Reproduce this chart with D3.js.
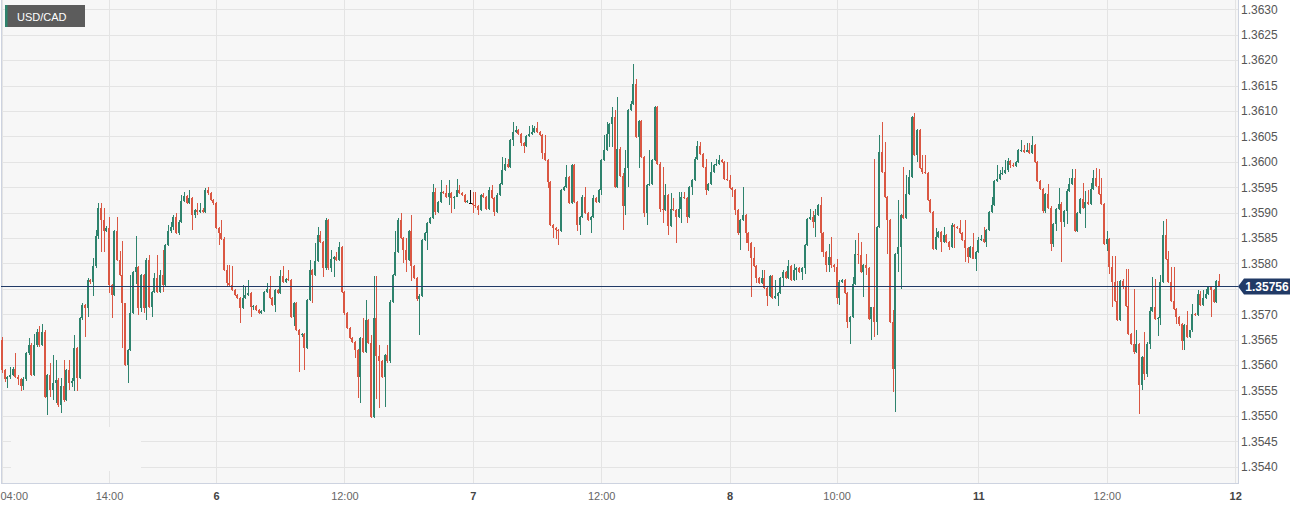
<!DOCTYPE html>
<html><head><meta charset="utf-8">
<script src="https://cdn.jsdelivr.net/npm/d3@7"></script>
<style>html,body{margin:0;padding:0;background:#fff;}svg{display:block;font-family:"Liberation Sans",Arial,sans-serif;}</style>
</head><body><svg id="chart" width="1307" height="509"></svg>
<script>
const symbol = "USD/CAD";
const lastPrice = 1.35756;
const timeTickIndex = [0,40,80,128,176,224,272,312,365,413,461];
const timeTickLabels = ["04:00","14:00","6","12:00","7","12:00","8","10:00","11","12:00","12"];
const dayLabels = ["6","7","8","11","12"];
const priceTicks = [1.3540,1.3545,1.3550,1.3555,1.3560,1.3565,1.3570,1.3575,1.3580,1.3585,1.3590,1.3595,1.3600,1.3605,1.3610,1.3615,1.3620,1.3625,1.3630];

const open = [
1.35649,1.35590,1.35572,1.35577,1.35581,1.35593,1.35577,1.35572,1.35558,1.35572,
1.35624,1.35639,1.35580,1.35639,1.35666,1.35639,1.35666,1.35538,1.35580,1.35551,
1.35565,1.35571,1.35521,1.35558,1.35531,1.35590,1.35564,1.35568,1.35633,1.35574,
1.35692,1.35718,1.35712,1.35767,1.35764,1.35794,1.35853,1.35909,1.35886,1.35863,
1.35869,1.35758,1.35738,1.35863,1.35807,1.35777,1.35722,1.35600,1.35630,1.35702,
1.35784,1.35792,1.35712,1.35777,1.35712,1.35807,1.35715,1.35744,1.35771,1.35744,
1.35777,1.35758,1.35836,1.35863,1.35872,1.35892,1.35859,1.35882,1.35922,1.35933,
1.35918,1.35928,1.35895,1.35905,1.35902,1.35905,1.35902,1.35945,1.35938,1.35925,
1.35918,1.35869,1.35859,1.35849,1.35787,1.35761,1.35758,1.35748,1.35738,1.35731,
1.35712,1.35731,1.35738,1.35741,1.35715,1.35716,1.35709,1.35703,1.35706,1.35744,
1.35749,1.35731,1.35718,1.35748,1.35742,1.35775,1.35764,1.35769,1.35767,1.35695,
1.35722,1.35669,1.35659,1.35662,1.35633,1.35728,1.35787,1.35777,1.35804,1.35856,
1.35843,1.35790,1.35886,1.35790,1.35809,1.35813,1.35807,1.35833,1.35744,1.35702,
1.35672,1.35653,1.35646,1.35630,1.35577,1.35653,1.35626,1.35689,1.35643,1.35498,
1.35692,1.35617,1.35607,1.35577,1.35620,1.35607,1.35725,1.35777,1.35823,1.35886,
1.35850,1.35827,1.35807,1.35863,1.35794,1.35771,1.35729,1.35736,1.35846,1.35860,
1.35879,1.35889,1.35941,1.35902,1.35921,1.35941,1.35938,1.35931,1.35938,1.35928,
1.35931,1.35944,1.35938,1.35935,1.35921,1.35919,1.35919,1.35915,1.35912,1.35905,
1.35935,1.35931,1.35908,1.35944,1.35928,1.35902,1.35935,1.35957,1.35983,1.35996,
1.35990,1.36042,1.36058,1.36063,1.36055,1.36036,1.36032,1.36050,1.36055,1.36058,
1.36067,1.36058,1.36052,1.36017,1.36003,1.35961,1.35876,1.35869,1.35866,1.35863,
1.35944,1.35951,1.35970,1.35918,1.35993,1.35921,1.35876,1.35892,1.35931,1.35899,
1.35886,1.35892,1.35928,1.35921,1.35944,1.36003,1.36023,1.36055,1.36075,1.36088,
1.35951,1.36026,1.35972,1.35912,1.35987,1.36101,1.36114,1.36153,1.36049,1.36081,
1.36010,1.35899,1.35954,1.35957,1.36003,1.36107,1.35996,1.35908,1.35905,1.35935,
1.35873,1.35908,1.35905,1.35892,1.35908,1.35931,1.35928,1.35892,1.35951,1.35964,
1.36006,1.36032,1.36016,1.35990,1.35944,1.35957,1.35980,1.35993,1.35996,1.36003,
1.36000,1.35967,1.35964,1.35948,1.35944,1.35905,1.35860,1.35886,1.35895,1.35860,
1.35840,1.35811,1.35794,1.35771,1.35762,1.35771,1.35752,1.35736,1.35775,1.35732,
1.35736,1.35742,1.35771,1.35784,1.35771,1.35794,1.35768,1.35788,1.35791,1.35784,
1.35790,1.35836,1.35888,1.35891,1.35882,1.35895,1.35914,1.35859,1.35823,1.35796,
1.35813,1.35796,1.35793,1.35731,1.35764,1.35767,1.35741,1.35685,1.35695,1.35760,
1.35819,1.35816,1.35783,1.35796,1.35790,1.35691,1.35714,1.35685,1.35872,1.36019,
1.35980,1.35931,1.35885,1.35685,1.35593,1.35818,1.35832,1.35895,1.35889,1.35937,
1.35970,1.36088,1.36013,1.36062,1.35987,1.35980,1.35977,1.35924,1.35901,1.35829,
1.35852,1.35862,1.35842,1.35856,1.35842,1.35832,1.35875,1.35872,1.35869,1.35859,
1.35846,1.35830,1.35813,1.35832,1.35809,1.35822,1.35846,1.35849,1.35842,1.35865,
1.35901,1.35914,1.35963,1.35966,1.35975,1.35977,1.35983,1.36002,1.35994,1.35992,
1.36000,1.36023,1.36024,1.36020,1.36023,1.36017,1.36033,1.35999,1.35963,1.35946,
1.35904,1.35936,1.35910,1.35838,1.35878,1.35907,1.35917,1.35881,1.35904,1.35943,
1.35956,1.35969,1.35864,1.35900,1.35927,1.35910,1.35920,1.35917,1.35946,1.35969,
1.35953,1.35936,1.35917,1.35838,1.35848,1.35792,1.35763,1.35727,1.35688,1.35766,
1.35753,1.35716,1.35661,1.35642,1.35625,1.35642,1.35560,1.35616,1.35583,1.35642,
1.35707,1.35714,1.35691,1.35693,1.35763,1.35855,1.35809,1.35763,1.35727,1.35711,
1.35694,1.35681,1.35648,1.35678,1.35655,1.35668,1.35701,1.35698,1.35740,1.35718,
1.35732,1.35740,1.35753,1.35747,1.35724,1.35765];

const high = [
1.35656,1.35592,1.35578,1.35596,1.35596,1.35624,1.35580,1.35575,1.35576,1.35626,
1.35653,1.35643,1.35662,1.35670,1.35676,1.35680,1.35668,1.35582,1.35605,1.35620,
1.35609,1.35574,1.35574,1.35609,1.35593,1.35609,1.35575,1.35659,1.35635,1.35694,
1.35722,1.35720,1.35771,1.35770,1.35810,1.35865,1.35918,1.35918,1.35909,1.35873,
1.35892,1.35760,1.35865,1.35892,1.35825,1.35845,1.35723,1.35632,1.35777,1.35786,
1.35853,1.35794,1.35780,1.35780,1.35810,1.35817,1.35746,1.35781,1.35817,1.35787,
1.35827,1.35838,1.35876,1.35882,1.35895,1.35899,1.35885,1.35935,1.35941,1.35935,
1.35945,1.35930,1.35907,1.35918,1.35918,1.35909,1.35948,1.35951,1.35941,1.35927,
1.35920,1.35871,1.35886,1.35851,1.35797,1.35797,1.35794,1.35750,1.35740,1.35733,
1.35758,1.35754,1.35767,1.35743,1.35718,1.35718,1.35710,1.35708,1.35746,1.35761,
1.35775,1.35733,1.35750,1.35750,1.35787,1.35794,1.35771,1.35787,1.35769,1.35724,
1.35724,1.35671,1.35664,1.35664,1.35730,1.35807,1.35789,1.35840,1.35872,1.35863,
1.35845,1.35889,1.35888,1.35827,1.35815,1.35823,1.35843,1.35835,1.35746,1.35704,
1.35674,1.35655,1.35648,1.35632,1.35655,1.35692,1.35728,1.35691,1.35659,1.35775,
1.35775,1.35639,1.35610,1.35622,1.35639,1.35728,1.35780,1.35863,1.35889,1.35899,
1.35852,1.35850,1.35865,1.35895,1.35796,1.35773,1.35740,1.35848,1.35862,1.35881,
1.35891,1.35957,1.35948,1.35923,1.35964,1.35943,1.35954,1.35964,1.35940,1.35933,
1.35967,1.35954,1.35940,1.35937,1.35924,1.35944,1.35941,1.35941,1.35914,1.35937,
1.35938,1.35933,1.35951,1.35954,1.35930,1.35938,1.35959,1.36010,1.36008,1.36006,
1.36044,1.36078,1.36071,1.36065,1.36057,1.36038,1.36052,1.36071,1.36073,1.36070,
1.36078,1.36060,1.36054,1.36052,1.36005,1.35963,1.35878,1.35871,1.35868,1.35946,
1.35953,1.35993,1.35972,1.35996,1.35995,1.35923,1.35894,1.35935,1.35951,1.35901,
1.35894,1.35935,1.35930,1.35946,1.36005,1.36052,1.36078,1.36077,1.36107,1.36101,
1.36127,1.36030,1.35977,1.36023,1.36103,1.36120,1.36193,1.36163,1.36083,1.36083,
1.36012,1.35956,1.36023,1.36005,1.36109,1.36109,1.36000,1.35990,1.35957,1.35937,
1.35938,1.35928,1.35907,1.35941,1.35941,1.35940,1.35930,1.35953,1.35966,1.36009,
1.36041,1.36039,1.36018,1.36006,1.35959,1.36000,1.35995,1.36006,1.36013,1.36006,
1.36002,1.36000,1.35974,1.35950,1.35946,1.35907,1.35888,1.35951,1.35897,1.35862,
1.35842,1.35833,1.35796,1.35773,1.35788,1.35788,1.35754,1.35778,1.35777,1.35768,
1.35744,1.35773,1.35788,1.35786,1.35807,1.35796,1.35798,1.35793,1.35793,1.35793,
1.35839,1.35889,1.35908,1.35904,1.35907,1.35917,1.35931,1.35861,1.35825,1.35839,
1.35852,1.35798,1.35808,1.35767,1.35770,1.35770,1.35743,1.35697,1.35773,1.35846,
1.35860,1.35842,1.35798,1.35818,1.35792,1.35715,1.36006,1.35874,1.36052,1.36078,
1.36039,1.35933,1.35887,1.35708,1.35820,1.35924,1.35897,1.35990,1.35973,1.35983,
1.36091,1.36095,1.36064,1.36064,1.36013,1.36013,1.35980,1.35926,1.35903,1.35869,
1.35864,1.35864,1.35872,1.35858,1.35844,1.35879,1.35877,1.35874,1.35885,1.35861,
1.35885,1.35832,1.35835,1.35859,1.35824,1.35852,1.35856,1.35872,1.35867,1.35903,
1.35931,1.35965,1.35993,1.35984,1.35990,1.36003,1.36007,1.36004,1.35998,1.36002,
1.36025,1.36042,1.36033,1.36036,1.36036,1.36050,1.36035,1.36001,1.35965,1.35948,
1.35938,1.35956,1.35912,1.35880,1.35909,1.35949,1.35920,1.35906,1.35946,1.35969,
1.35986,1.35986,1.35902,1.35929,1.35959,1.35942,1.35944,1.35959,1.35984,1.35988,
1.35986,1.35969,1.35919,1.35864,1.35850,1.35815,1.35815,1.35766,1.35768,1.35770,
1.35789,1.35789,1.35663,1.35750,1.35668,1.35644,1.35618,1.35666,1.35645,1.35714,
1.35773,1.35770,1.35695,1.35778,1.35884,1.35887,1.35825,1.35792,1.35792,1.35713,
1.35696,1.35683,1.35680,1.35707,1.35669,1.35720,1.35703,1.35747,1.35746,1.35747,
1.35750,1.35756,1.35756,1.35749,1.35767,1.35779];

const low = [
1.35585,1.35567,1.35554,1.35573,1.35578,1.35575,1.35561,1.35548,1.35551,1.35569,
1.35619,1.35579,1.35578,1.35635,1.35635,1.35637,1.35536,1.35502,1.35538,1.35531,
1.35525,1.35517,1.35505,1.35528,1.35529,1.35551,1.35556,1.35548,1.35548,1.35572,
1.35689,1.35656,1.35695,1.35760,1.35735,1.35790,1.35849,1.35823,1.35823,1.35862,
1.35741,1.35692,1.35736,1.35805,1.35775,1.35633,1.35598,1.35564,1.35628,1.35700,
1.35760,1.35698,1.35705,1.35703,1.35689,1.35713,1.35695,1.35742,1.35742,1.35742,
1.35744,1.35755,1.35834,1.35860,1.35865,1.35857,1.35856,1.35880,1.35920,1.35916,
1.35916,1.35866,1.35889,1.35895,1.35899,1.35899,1.35900,1.35935,1.35923,1.35915,
1.35867,1.35836,1.35847,1.35785,1.35756,1.35755,1.35746,1.35736,1.35729,1.35682,
1.35710,1.35729,1.35736,1.35695,1.35709,1.35707,1.35700,1.35701,1.35704,1.35742,
1.35729,1.35716,1.35705,1.35740,1.35740,1.35762,1.35762,1.35765,1.35693,1.35676,
1.35667,1.35587,1.35655,1.35590,1.35631,1.35726,1.35722,1.35775,1.35802,1.35841,
1.35774,1.35788,1.35788,1.35784,1.35774,1.35805,1.35805,1.35742,1.35699,1.35670,
1.35651,1.35644,1.35613,1.35535,1.35525,1.35624,1.35624,1.35641,1.35495,1.35496,
1.35533,1.35515,1.35575,1.35518,1.35605,1.35605,1.35723,1.35775,1.35821,1.35848,
1.35801,1.35784,1.35805,1.35765,1.35769,1.35727,1.35659,1.35734,1.35844,1.35827,
1.35877,1.35887,1.35895,1.35900,1.35919,1.35936,1.35929,1.35915,1.35899,1.35908,
1.35930,1.35936,1.35933,1.35919,1.35919,1.35919,1.35899,1.35910,1.35895,1.35903,
1.35929,1.35906,1.35906,1.35926,1.35894,1.35900,1.35933,1.35955,1.35981,1.35988,
1.35988,1.36032,1.36056,1.36053,1.36032,1.36017,1.36030,1.36048,1.36053,1.36056,
1.36056,1.36050,1.36006,1.36001,1.35949,1.35874,1.35850,1.35849,1.35837,1.35861,
1.35942,1.35949,1.35916,1.35916,1.35919,1.35863,1.35856,1.35890,1.35897,1.35884,
1.35860,1.35890,1.35919,1.35919,1.35935,1.36001,1.36021,1.36029,1.36029,1.35949,
1.35949,1.35970,1.35866,1.35895,1.35951,1.36099,1.36112,1.36047,1.35987,1.36008,
1.35892,1.35876,1.35952,1.35955,1.36001,1.35994,1.35902,1.35880,1.35903,1.35856,
1.35871,1.35903,1.35840,1.35890,1.35879,1.35926,1.35879,1.35890,1.35935,1.35962,
1.36004,1.36014,1.35988,1.35935,1.35942,1.35955,1.35978,1.35991,1.35994,1.35998,
1.35965,1.35962,1.35946,1.35931,1.35895,1.35856,1.35827,1.35884,1.35840,1.35824,
1.35734,1.35792,1.35762,1.35760,1.35760,1.35750,1.35716,1.35734,1.35730,1.35730,
1.35716,1.35740,1.35755,1.35769,1.35769,1.35766,1.35766,1.35768,1.35782,1.35767,
1.35779,1.35834,1.35886,1.35870,1.35852,1.35893,1.35823,1.35813,1.35783,1.35783,
1.35791,1.35783,1.35721,1.35718,1.35762,1.35739,1.35672,1.35642,1.35693,1.35758,
1.35798,1.35781,1.35734,1.35777,1.35689,1.35649,1.35655,1.35659,1.35870,1.35978,
1.35929,1.35818,1.35683,1.35547,1.35508,1.35783,1.35750,1.35887,1.35887,1.35935,
1.35968,1.36011,1.36000,1.35985,1.35975,1.35975,1.35922,1.35899,1.35826,1.35827,
1.35850,1.35823,1.35840,1.35840,1.35826,1.35830,1.35830,1.35868,1.35857,1.35844,
1.35803,1.35800,1.35811,1.35808,1.35786,1.35820,1.35844,1.35840,1.35832,1.35863,
1.35899,1.35912,1.35961,1.35964,1.35973,1.35975,1.35979,1.35987,1.35990,1.35990,
1.35998,1.36020,1.36018,1.36019,1.36015,1.36015,1.35998,1.35961,1.35944,1.35900,
1.35900,1.35908,1.35825,1.35832,1.35864,1.35905,1.35802,1.35872,1.35878,1.35941,
1.35954,1.35862,1.35861,1.35898,1.35908,1.35870,1.35915,1.35915,1.35944,1.35950,
1.35934,1.35915,1.35836,1.35825,1.35780,1.35714,1.35725,1.35686,1.35686,1.35750,
1.35714,1.35659,1.35639,1.35622,1.35623,1.35504,1.35550,1.35570,1.35576,1.35632,
1.35705,1.35689,1.35658,1.35678,1.35761,1.35807,1.35761,1.35725,1.35709,1.35681,
1.35677,1.35630,1.35630,1.35653,1.35653,1.35666,1.35696,1.35696,1.35717,1.35716,
1.35730,1.35738,1.35694,1.35723,1.35722,1.35753];

const close = [
1.35590,1.35572,1.35577,1.35581,1.35593,1.35577,1.35572,1.35558,1.35572,1.35624,
1.35639,1.35580,1.35639,1.35666,1.35639,1.35666,1.35538,1.35580,1.35551,1.35565,
1.35571,1.35521,1.35558,1.35531,1.35590,1.35564,1.35568,1.35633,1.35574,1.35692,
1.35718,1.35712,1.35767,1.35764,1.35794,1.35853,1.35909,1.35886,1.35863,1.35869,
1.35758,1.35738,1.35863,1.35807,1.35777,1.35722,1.35600,1.35630,1.35702,1.35784,
1.35792,1.35712,1.35777,1.35712,1.35807,1.35715,1.35744,1.35771,1.35744,1.35777,
1.35758,1.35836,1.35863,1.35872,1.35892,1.35859,1.35882,1.35922,1.35933,1.35918,
1.35928,1.35895,1.35905,1.35902,1.35905,1.35902,1.35945,1.35938,1.35925,1.35918,
1.35869,1.35859,1.35849,1.35787,1.35761,1.35758,1.35748,1.35738,1.35731,1.35712,
1.35731,1.35738,1.35741,1.35715,1.35716,1.35709,1.35703,1.35706,1.35744,1.35749,
1.35731,1.35718,1.35748,1.35742,1.35775,1.35764,1.35769,1.35767,1.35695,1.35722,
1.35669,1.35659,1.35662,1.35633,1.35728,1.35787,1.35777,1.35804,1.35856,1.35843,
1.35790,1.35886,1.35790,1.35809,1.35813,1.35807,1.35833,1.35744,1.35702,1.35672,
1.35653,1.35646,1.35630,1.35577,1.35653,1.35626,1.35689,1.35643,1.35498,1.35692,
1.35617,1.35607,1.35577,1.35620,1.35607,1.35725,1.35777,1.35823,1.35886,1.35850,
1.35827,1.35807,1.35863,1.35794,1.35771,1.35729,1.35736,1.35846,1.35860,1.35879,
1.35889,1.35941,1.35902,1.35921,1.35941,1.35938,1.35931,1.35938,1.35928,1.35931,
1.35944,1.35938,1.35935,1.35921,1.35922,1.35919,1.35915,1.35912,1.35905,1.35935,
1.35931,1.35908,1.35944,1.35928,1.35902,1.35935,1.35957,1.35983,1.35996,1.35990,
1.36042,1.36058,1.36063,1.36055,1.36036,1.36032,1.36050,1.36055,1.36058,1.36067,
1.36058,1.36052,1.36017,1.36003,1.35961,1.35876,1.35869,1.35866,1.35863,1.35944,
1.35951,1.35970,1.35918,1.35993,1.35921,1.35876,1.35892,1.35931,1.35899,1.35886,
1.35892,1.35928,1.35921,1.35944,1.36003,1.36023,1.36055,1.36075,1.36088,1.35951,
1.36026,1.35972,1.35912,1.35987,1.36101,1.36114,1.36153,1.36049,1.36081,1.36010,
1.35899,1.35954,1.35957,1.36003,1.36107,1.35996,1.35908,1.35905,1.35935,1.35873,
1.35908,1.35905,1.35892,1.35908,1.35931,1.35928,1.35892,1.35951,1.35964,1.36006,
1.36032,1.36016,1.35990,1.35944,1.35957,1.35980,1.35993,1.35996,1.36003,1.36000,
1.35967,1.35964,1.35948,1.35944,1.35905,1.35860,1.35886,1.35895,1.35860,1.35840,
1.35811,1.35794,1.35771,1.35762,1.35771,1.35752,1.35736,1.35775,1.35732,1.35736,
1.35742,1.35771,1.35784,1.35771,1.35794,1.35768,1.35788,1.35791,1.35784,1.35790,
1.35836,1.35888,1.35891,1.35882,1.35895,1.35914,1.35859,1.35823,1.35796,1.35813,
1.35796,1.35793,1.35731,1.35764,1.35767,1.35741,1.35685,1.35695,1.35760,1.35819,
1.35816,1.35783,1.35796,1.35790,1.35691,1.35714,1.35685,1.35872,1.36019,1.35980,
1.35931,1.35885,1.35685,1.35593,1.35818,1.35832,1.35895,1.35889,1.35937,1.35970,
1.36088,1.36013,1.36062,1.35987,1.35980,1.35977,1.35924,1.35901,1.35829,1.35852,
1.35862,1.35842,1.35856,1.35842,1.35832,1.35875,1.35872,1.35869,1.35859,1.35846,
1.35830,1.35813,1.35832,1.35809,1.35822,1.35846,1.35849,1.35842,1.35865,1.35901,
1.35914,1.35963,1.35966,1.35975,1.35977,1.35983,1.36002,1.35994,1.35992,1.36000,
1.36023,1.36024,1.36020,1.36023,1.36017,1.36033,1.35999,1.35963,1.35946,1.35904,
1.35936,1.35910,1.35838,1.35878,1.35907,1.35917,1.35881,1.35904,1.35943,1.35956,
1.35969,1.35864,1.35900,1.35927,1.35910,1.35920,1.35917,1.35946,1.35969,1.35953,
1.35936,1.35917,1.35838,1.35848,1.35792,1.35763,1.35727,1.35688,1.35766,1.35753,
1.35716,1.35661,1.35642,1.35625,1.35642,1.35560,1.35616,1.35583,1.35642,1.35707,
1.35714,1.35691,1.35693,1.35763,1.35855,1.35809,1.35763,1.35727,1.35711,1.35694,
1.35681,1.35648,1.35678,1.35655,1.35668,1.35701,1.35698,1.35740,1.35718,1.35732,
1.35740,1.35753,1.35747,1.35724,1.35765,1.35756];

const COLORS = {up:"#2e836d", down:"#da5743", flat:"#111111", bg:"#f7f7f7", grid:"#e4e4e4", border:"#cdd3e0", line:"#213a66"};
const plot = {left:1, right:1238, top:0, bottom:483};

const svg = d3.select("#chart");
const x = d3.scaleLinear().domain([0, 461]).range([2, 2 + 461 * 2.675]);
const y = d3.scaleLinear().domain([1.3540, 1.3630]).range([466.7, 9.3]);

svg.append("rect").attr("x", plot.left).attr("y", plot.top)
  .attr("width", plot.right - plot.left).attr("height", plot.bottom - plot.top)
  .attr("fill", COLORS.bg);

const grid = svg.append("g").attr("shape-rendering", "crispEdges");
grid.selectAll("line.h").data(priceTicks).join("line").attr("class", "h")
  .attr("x1", plot.left).attr("x2", plot.right)
  .attr("y1", d => Math.round(y(d)) + 0.5).attr("y2", d => Math.round(y(d)) + 0.5)
  .attr("stroke", COLORS.grid).attr("stroke-width", 1);
grid.selectAll("line.v").data(timeTickIndex).join("line").attr("class", "v")
  .attr("y1", plot.top).attr("y2", plot.bottom)
  .attr("x1", d => Math.round(x(d)) + 0.5).attr("x2", d => Math.round(x(d)) + 0.5)
  .attr("stroke", COLORS.grid).attr("stroke-width", 1);

// blank logo area bottom-left
svg.append("rect").attr("x", 11).attr("y", 427).attr("width", 130).attr("height", 44).attr("fill", COLORS.bg);

// borders
const bd = svg.append("g").attr("shape-rendering", "crispEdges").attr("stroke", COLORS.border).attr("stroke-width", 1);
bd.append("line").attr("x1", plot.left + 0.5).attr("x2", plot.left + 0.5).attr("y1", 0).attr("y2", plot.bottom);
bd.append("line").attr("x1", plot.right + 0.5).attr("x2", plot.right + 0.5).attr("y1", 0).attr("y2", plot.bottom + 1);
bd.append("line").attr("x1", plot.left).attr("x2", plot.right).attr("y1", plot.bottom + 0.5).attr("y2", plot.bottom + 0.5);

// candles
const candles = open.map((o, i) => ({i, o, h: high[i], l: low[i], c: close[i]}));
const col = d => d.c > d.o ? COLORS.up : (d.c < d.o ? COLORS.down : COLORS.flat);
const cg = svg.append("g").attr("shape-rendering", "crispEdges");
cg.selectAll("rect.wick").data(candles).join("rect").attr("class", "wick")
  .attr("x", d => Math.round(x(d.i)))
  .attr("width", 1)
  .attr("y", d => Math.round(y(d.h)))
  .attr("height", d => Math.max(1, Math.round(y(d.l)) - Math.round(y(d.h))))
  .attr("fill", col);
cg.selectAll("rect.body").data(candles).join("rect").attr("class", "body")
  .attr("x", d => Math.round(x(d.i)) - 1)
  .attr("width", d => d.c === d.o ? 4 : 2)
  .attr("y", d => Math.round(y(Math.max(d.o, d.c))))
  .attr("height", d => Math.max(1, Math.round(y(Math.min(d.o, d.c))) - Math.round(y(Math.max(d.o, d.c)))))
  .attr("fill", col);

// current price line
const yc = Math.round(y(lastPrice)) + 0.5;
svg.append("line").attr("x1", plot.left).attr("x2", plot.right).attr("y1", yc).attr("y2", yc)
  .attr("stroke", COLORS.line).attr("stroke-width", 1).attr("shape-rendering", "crispEdges");

// right axis (the tick hidden under the price tag is not labelled, as in the source)
const labelledTicks = priceTicks.filter(t => Math.abs(y(t) - y(lastPrice)) > 10);
const yAxis = d3.axisRight(y).tickValues(labelledTicks).tickFormat(d3.format(".4f")).tickSize(0).tickPadding(3);
const ya = svg.append("g").attr("transform", `translate(${plot.right},0)`).call(yAxis);
ya.select(".domain").remove();
ya.selectAll("text").attr("font-size", 12).attr("fill", "#555").attr("font-family", '"Liberation Sans", Arial, sans-serif');

// price tag
const tag = svg.append("g");
tag.append("path")
  .attr("d", `M${plot.right},${yc} L${plot.right + 6},${yc - 8} L${plot.right + 52},${yc - 8} L${plot.right + 52},${yc + 8} L${plot.right + 6},${yc + 8} Z`)
  .attr("fill", COLORS.line);
tag.append("text").attr("x", plot.right + 29).attr("y", yc).attr("dy", "0.35em")
  .attr("text-anchor", "middle").attr("font-size", 12).attr("font-weight", "bold").attr("fill", "#fff")
  .text(d3.format(".5f")(lastPrice));

// bottom axis
const xAxis = d3.axisBottom(x).tickValues(timeTickIndex).tickFormat((d, i) => timeTickLabels[i]).tickSize(0).tickPadding(9);
const xa = svg.append("g").attr("transform", `translate(0,${plot.bottom})`).call(xAxis);
xa.select(".domain").remove();
xa.selectAll("text").attr("font-size", 11).attr("fill", "#666").attr("font-family", '"Liberation Sans", Arial, sans-serif')
  .each(function(d, i) {
    const t = d3.select(this);
    if (dayLabels.includes(timeTickLabels[i])) t.attr("font-weight", "bold").attr("fill", "#444");
    if (i === 0) t.attr("text-anchor", "start").attr("x", -2);
  });

// legend
const lg = svg.append("g");
lg.append("rect").attr("x", 5).attr("y", 5).attr("width", 80).attr("height", 22).attr("fill", "#5c5c5c");
lg.append("rect").attr("x", 5).attr("y", 5).attr("width", 2.5).attr("height", 22).attr("fill", COLORS.up);
lg.append("text").attr("x", 17).attr("y", 20.5).attr("font-size", 11).attr("fill", "#fff").text(symbol);
</script>
</body></html>
